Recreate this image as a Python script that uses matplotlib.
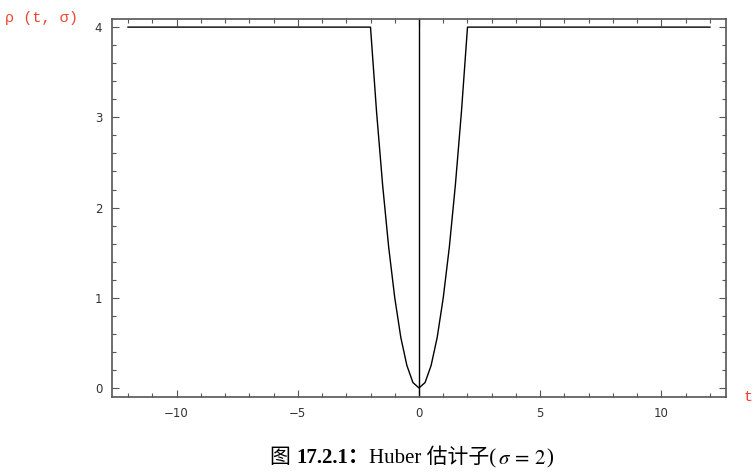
import matplotlib
matplotlib.use("Agg")
import matplotlib.pyplot as plt
from matplotlib.ticker import MultipleLocator, FixedLocator

# Data
t_vals = [-12, -2.0, -1.75, -1.5, -1.25, -1.0, -0.75, -0.5, -0.25, 0.0,
          0.25, 0.5, 0.75, 1.0, 1.25, 1.5, 1.75, 2.0, 12]
rho_vals = [4, 4.0, 3.06, 2.25, 1.56, 1.0, 0.56, 0.25, 0.06, 0.0,
            0.06, 0.25, 0.56, 1.0, 1.56, 2.25, 3.06, 4.0, 4]
x_major = [-10, -5, 0, 5, 10]
x_labels = ["\u221210", "\u22125", "0", "5", "10"]
y_major = [0, 1, 2, 3, 4]
y_labels = ["0", "1", "2", "3", "4"]

fig = plt.figure(figsize=(7.53, 4.72), dpi=100)
ax = fig.add_axes([112/753, 1-397/472, (726-112)/753, (397-19)/472])

ax.plot(t_vals, rho_vals, color="black", lw=1.0)
ax.axvline(0, color="black", lw=1.0)

ax.set_xlim(-12.66, 12.66)
ax.set_ylim(-0.1, 4.09)

frame_col = "#555555"
for s in ax.spines.values():
    s.set_color(frame_col)
    s.set_linewidth(1.2)

ax.xaxis.set_major_locator(FixedLocator(x_major))
ax.set_xticklabels(x_labels)
ax.xaxis.set_minor_locator(MultipleLocator(1))
ax.yaxis.set_major_locator(FixedLocator(y_major))
ax.set_yticklabels(y_labels)
ax.yaxis.set_minor_locator(MultipleLocator(0.2))
ax.tick_params(which="both", direction="in", top=True, right=True, color=frame_col,
               width=0.8, labelsize=8.5, labelcolor="#333333")
ax.tick_params(which="major", length=5, pad=7)
ax.tick_params(which="minor", length=3)

red = "#ee4433"
fig.text(5/753, 1-18/472, "\u03c1 (t, \u03c3)", color=red, fontsize=11,
         family="Liberation Mono", va="center", ha="left")
fig.text(744/753, 1-397/472, "t", color=red, fontsize=11,
         family="Liberation Mono", va="center", ha="left")

# Caption
fam = ["Liberation Serif", "Noto Sans CJK SC"]
fs = 15
t1 = ax.annotate("\u56fe ", xy=(270/753, 1-468/472), xycoords="figure fraction",
                 fontsize=fs, family=fam, va="bottom", ha="left", annotation_clip=False)
t2 = ax.annotate("17.2.1\uff1a", xy=(1, 0), xycoords=t1, va="bottom", ha="left",
                 fontsize=fs, family=fam, weight="bold", annotation_clip=False)
t3 = ax.annotate("Huber \u4f30\u8ba1\u5b50(", xy=(1, 0), xycoords=t2, va="bottom", ha="left",
                 fontsize=fs, family=fam, annotation_clip=False)
t4 = ax.annotate("$\\,\\sigma\\,=\\,\\mathrm{2}\\,$", xy=(1, 0), xycoords=t3, va="bottom",
                 ha="left", fontsize=fs, math_fontfamily="stix", annotation_clip=False)
t5 = ax.annotate(")", xy=(1, 0), xycoords=t4, va="bottom", ha="left",
                 fontsize=fs, family=fam, annotation_clip=False)

fig.savefig("out.png", dpi=100)
